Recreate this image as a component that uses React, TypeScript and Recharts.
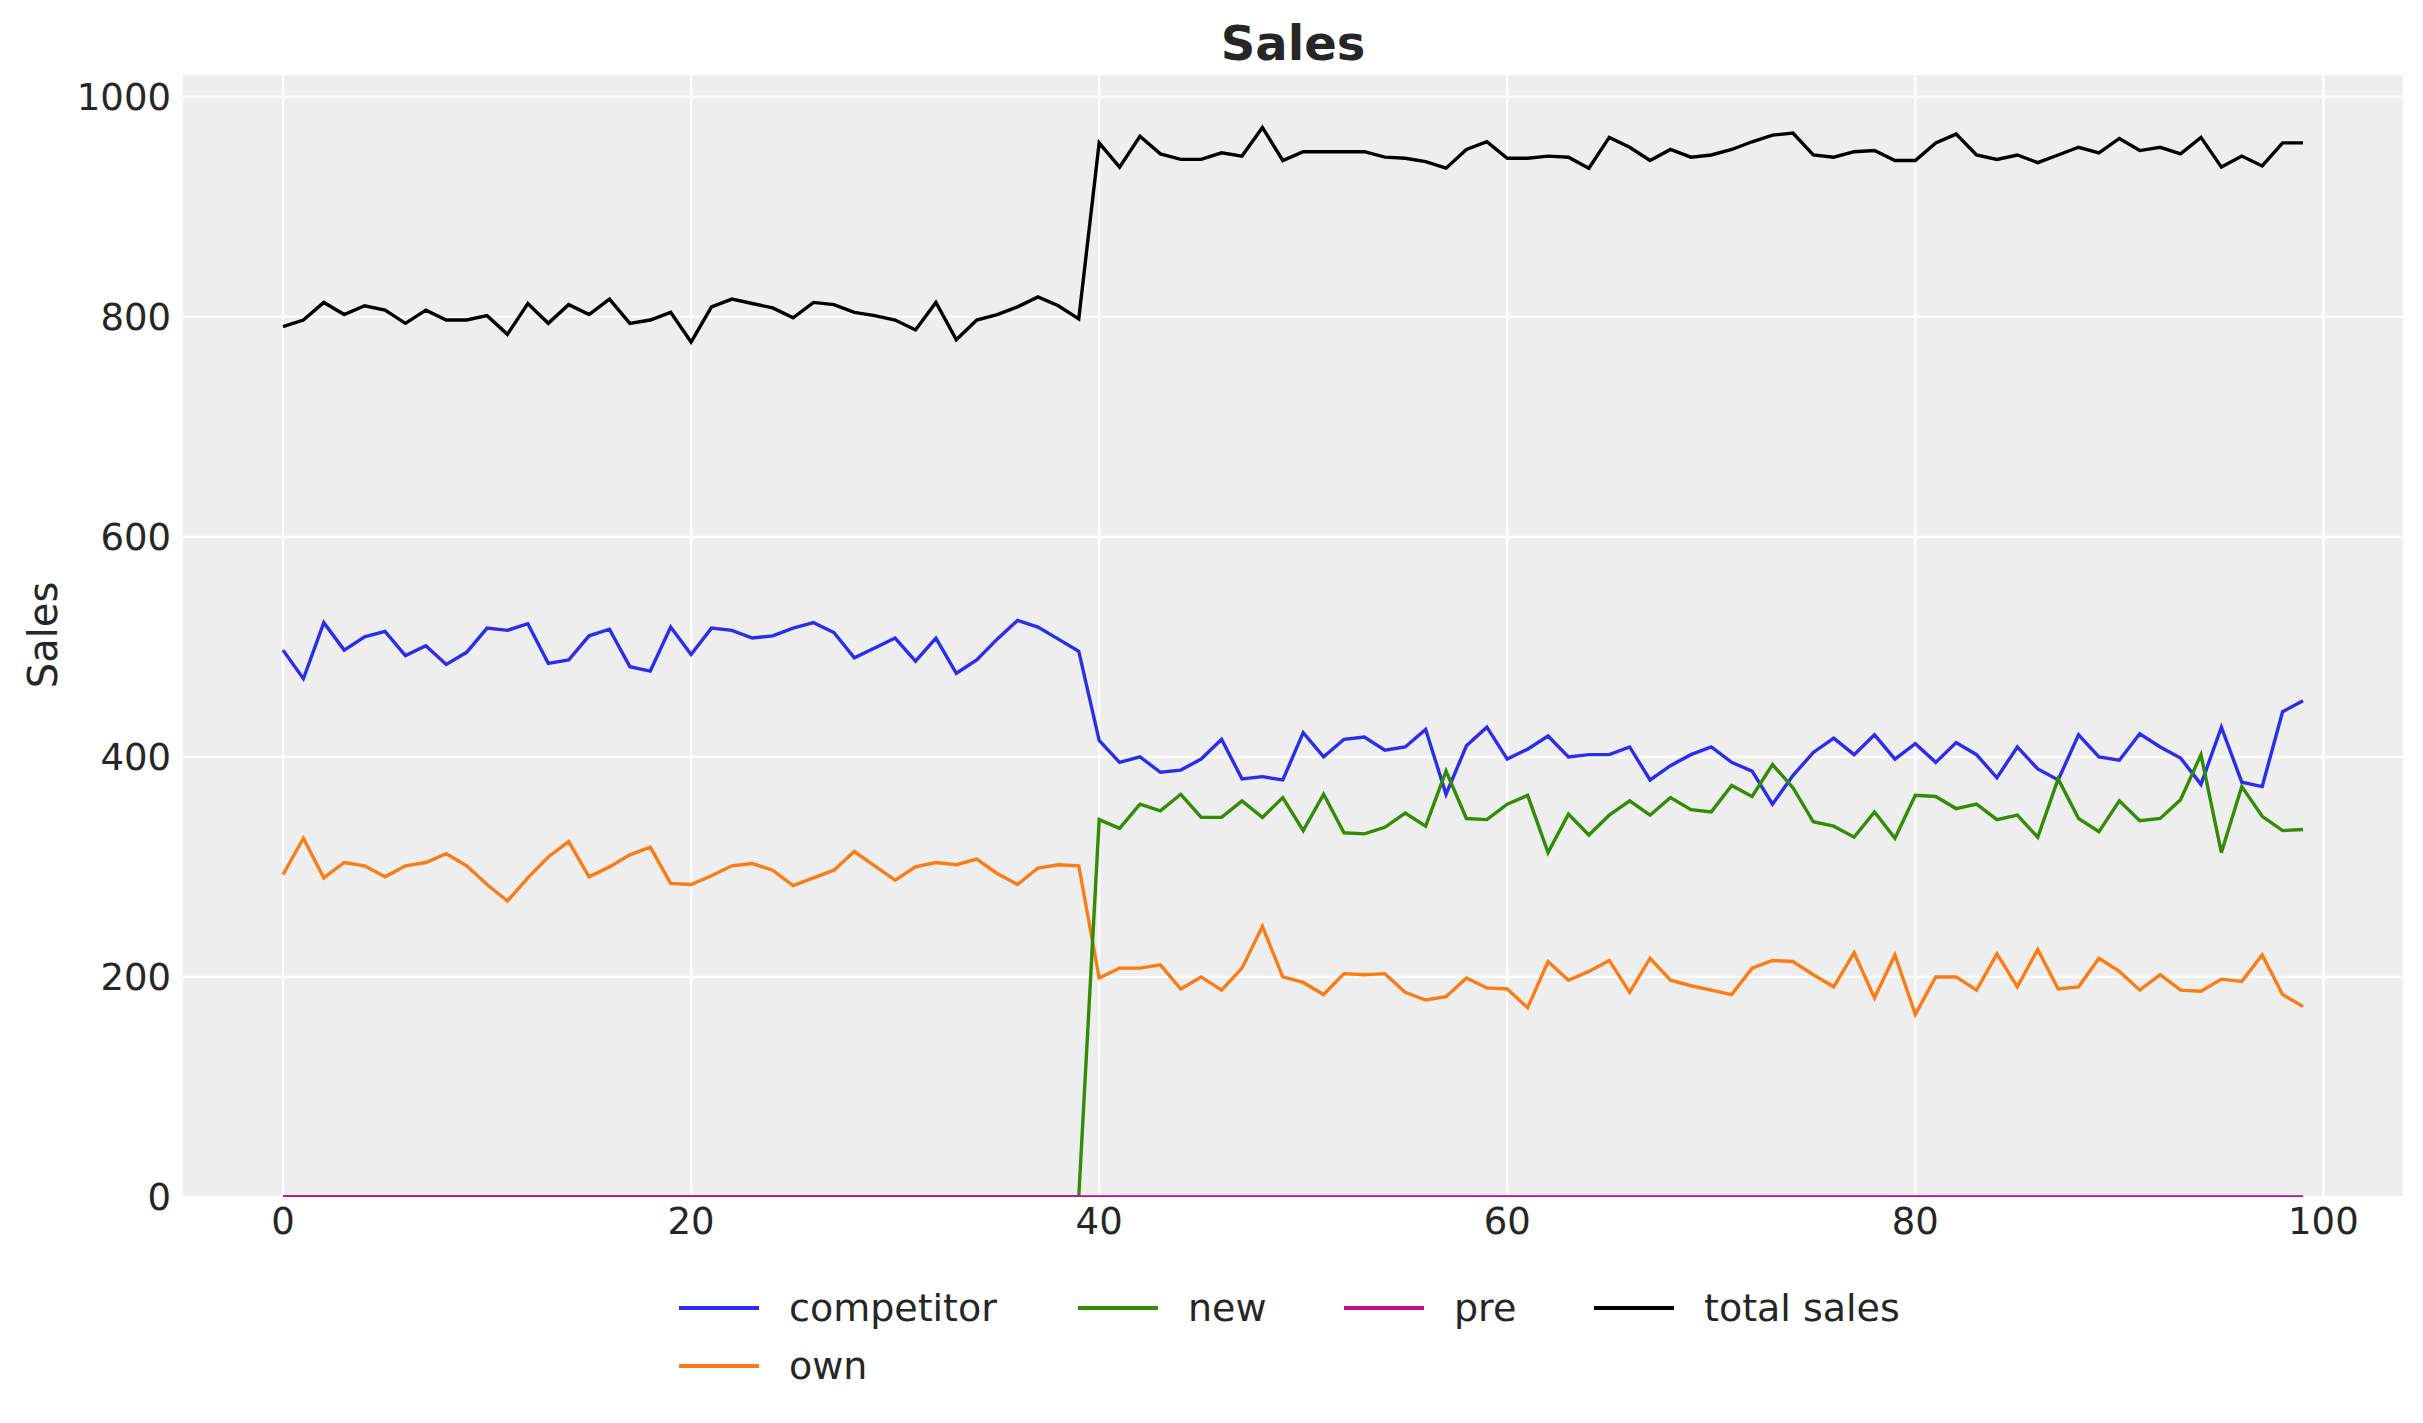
import React from 'react'
import { LineChart, Line, XAxis, YAxis, CartesianGrid } from 'recharts'

// week index 0..99
const weeks = Array.from({ length: 100 }, (_, i) => i)

const competitor = [
  497, 471, 522, 497, 509, 514, 492, 501, 484, 495, 517, 515, 521, 485, 488, 510, 516, 482, 478, 518, 493, 517, 515, 508, 510, 517,
  522, 513, 490, 499, 508, 487, 508, 476, 488, 507, 524, 518, 507, 496, 415, 395, 400, 386, 388, 398, 416, 380, 382, 379, 422,
  400, 416, 418, 406, 409, 425, 366, 410, 427, 398, 407, 419, 400, 402, 402, 409, 379, 392, 402, 409, 395, 387, 357, 383, 404,
  417, 402, 420, 398, 412, 395, 413, 402, 381, 409, 389, 379, 420, 400, 397, 421, 409, 399, 375, 427, 377, 373, 441, 451,
]

const own = [
  293, 326, 290, 304, 301, 291, 301, 304, 312, 301, 284, 269, 290, 309, 323, 291, 300, 311, 318, 285, 284, 292, 301, 303, 297, 283,
  290, 297, 314, 301, 288, 300, 304, 302, 307, 294, 284, 299, 302, 301, 199, 208, 208, 211, 189, 200, 188, 208, 246, 200, 195,
  184, 203, 202, 203, 186, 179, 182, 199, 190, 189, 172, 214, 197, 205, 215, 186, 217, 197, 192, 188, 184, 208, 215, 214, 202,
  191, 222, 181, 220, 166, 200, 200, 188, 221, 191, 225, 189, 191, 217, 205, 188, 202, 188, 187, 198, 196, 220, 184, 173,
]

const newSales = [
  0, 0, 0, 0, 0, 0, 0, 0, 0, 0, 0, 0, 0, 0, 0, 0, 0, 0, 0, 0,
  0, 0, 0, 0, 0, 0, 0, 0, 0, 0, 0, 0, 0, 0, 0, 0, 0, 0, 0, 0,
  343, 335, 357, 351, 366, 345, 345, 360, 345, 363, 333,
  366, 331, 330, 336, 349, 337, 387, 344, 343, 357, 365, 313, 348, 329, 347, 360, 347, 363, 352, 350, 374, 364, 393, 372, 341,
  337, 327, 350, 326, 365, 364, 353, 357, 343, 347, 327, 380, 344, 332, 360, 342, 344, 361, 402, 313, 373, 346, 333, 334,
]

const pre = weeks.map(() => 0)

const totalSales = [
  791, 797, 813, 802, 810, 806, 794, 806, 797, 797, 801, 784, 812, 794, 811, 802, 816, 794, 797, 804, 777, 809, 816, 812, 808, 799,
  813, 811, 804, 801, 797, 788, 813, 779, 797, 802, 809, 818, 810, 798, 958, 936, 964, 948, 943, 943, 949, 946, 972, 942, 950,
  950, 950, 950, 945, 944, 941, 935, 952, 959, 944, 944, 946, 945, 935, 963, 954, 942, 952, 945, 947, 952, 959, 965, 967, 947,
  945, 950, 951, 942, 942, 958, 966, 947, 943, 947, 940, 947, 954, 949, 962, 951, 954, 948, 963, 936, 946, 937, 958, 958,
]

const xTicks = [0, 20, 40, 60, 80, 100]
const yTicks = [0, 200, 400, 600, 800, 1000]

const series = [
  { key: 'competitor', color: '#2a2eec' },
  { key: 'own', color: '#fa7c17' },
  { key: 'new', color: '#328c06' },
  { key: 'pre', color: '#c10c90' },
  { key: 'total sales', color: '#000000' },
]

const data = weeks.map((t, i) => ({
  t,
  competitor: competitor[i],
  own: own[i],
  new: newSales[i],
  pre: pre[i],
  'total sales': totalSales[i],
}))

const FONT = '"DejaVu Sans", sans-serif'
const TEXT = '#262626'

// legend laid out like matplotlib ncol=4 (column-major)
const legendSlots = [
  { key: 'competitor', x: 679, y: 1308 },
  { key: 'own', x: 679, y: 1366 },
  { key: 'new', x: 1078, y: 1308 },
  { key: 'pre', x: 1344, y: 1308 },
  { key: 'total sales', x: 1594, y: 1308 },
]

const App = () => {
  return (
    <div style={{ position: 'absolute', left: 0, top: 0, width: 2423, height: 1423, background: '#fff', fontFamily: FONT }}>
      <LineChart
        width={2423}
        height={1423}
        data={data}
        margin={{ top: 74, right: 19, bottom: 166, left: 62 }}
        style={{ position: 'absolute', left: 0, top: 0 }}
      >
        <CartesianGrid fill="#eeeeee" stroke="#ffffff" strokeWidth={2.2} />
        <XAxis
          dataKey="t"
          type="number"
          domain={[-4.95, 103.95]}
          allowDataOverflow
          ticks={xTicks}
          height={60}
          axisLine={false}
          tickLine={false}
          tickMargin={5}
          tick={{ fontSize: 37, fill: TEXT, fontFamily: FONT }}
        />
        <YAxis
          type="number"
          domain={[0, 1020.6]}
          allowDataOverflow
          ticks={yTicks}
          width={120}
          axisLine={false}
          tickLine={false}
          tickMargin={5}
          tick={{ fontSize: 37, fill: TEXT, fontFamily: FONT }}
        />
        {series.map((s) => (
          <Line
            key={s.key}
            dataKey={s.key}
            stroke={s.color}
            strokeWidth={3.4}
            dot={false}
            activeDot={false}
            type="linear"
            isAnimationActive={false}
          />
        ))}
      </LineChart>

      <div
        style={{
          position: 'absolute', left: 182, top: 19, width: 2222, textAlign: 'center',
          fontSize: 48, fontWeight: 'bold', lineHeight: '48px', color: TEXT,
        }}
      >
        Sales
      </div>

      <div
        style={{
          position: 'absolute', left: 43, top: 635, transform: 'translate(-50%, -50%) rotate(-90deg)',
          fontSize: 40, lineHeight: '40px', color: TEXT, whiteSpace: 'nowrap',
        }}
      >
        Sales
      </div>

      {legendSlots.map((l) => {
        const s = series.find((x) => x.key === l.key)!
        return (
          <div key={l.key} style={{ position: 'absolute', left: l.x, top: l.y - 24, height: 48, display: 'flex', alignItems: 'center' }}>
            <div style={{ width: 80, height: 3.3, background: s.color }} />
            <span style={{ marginLeft: 30, fontSize: 38, color: TEXT, whiteSpace: 'nowrap' }}>{l.key}</span>
          </div>
        )
      })}
    </div>
  )
}

export default App
